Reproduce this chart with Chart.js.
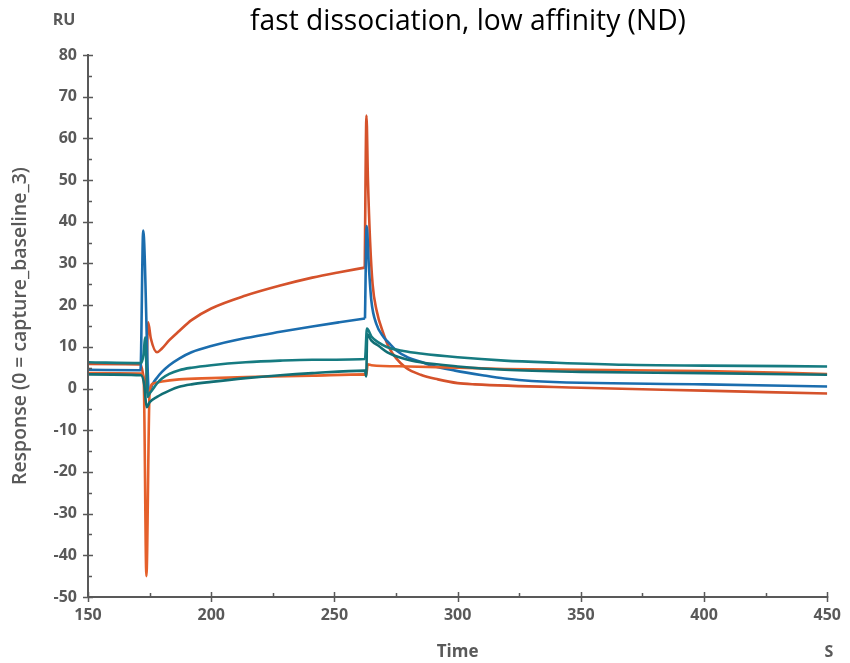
<!DOCTYPE html>
<html><head><meta charset="utf-8">
<script src="https://cdn.jsdelivr.net/npm/chart.js@4"></script>
<style>html,body{margin:0;padding:0;background:#fff}#wrap{width:850px;height:663px}</style>
</head><body><div id="wrap"><canvas id="c" width="850" height="663"></canvas></div>
<script>
const chartTitle = 'fast dissociation, low affinity (ND)';
const xTitle = 'Time', xUnit = 'S';
const yTitle = 'Response (0 = capture_baseline_3)', yUnit = 'RU';
const xTickValues = [150, 200, 250, 300, 350, 400, 450];
const yTickValues = [-50, -40, -30, -20, -10, 0, 10, 20, 30, 40, 50, 60, 70, 80];

// Teal (upper)
const tealATime = [150, 171.5, 172.5, 173.2, 174.2, 175, 176, 178, 180, 183, 187, 192, 200, 214, 228, 241, 262.4, 263.2, 265, 268, 271.5, 278, 285, 300, 319, 340, 368, 400, 450];
const tealAResp = [6.3, 6.1, 8, 12.3, -2, -1.2, -0.4, 1.2, 2.4, 3.5, 4.4, 5.0, 5.6, 6.3, 6.7, 6.9, 7.1, 14.4, 12.5, 11, 9.9, 9.0, 8.4, 7.5, 6.7, 6.2, 5.7, 5.5, 5.3];
// Teal (lower)
const tealBTime = [150, 171.5, 172.8, 173.8, 175, 178, 183, 187, 192, 200, 214, 228, 241, 262.4, 262.9, 263.3, 265, 268, 271.5, 278, 285, 300, 319, 350, 400, 450];
const tealBResp = [3.4, 3.2, 1, -4.5, -3.3, -2.0, -0.5, 0.4, 1.0, 1.6, 2.5, 3.2, 3.7, 4.3, 2.9, 13.0, 11.5, 10.2, 8.7, 7.2, 6.3, 5.3, 4.5, 4.0, 3.7, 3.3];
// Blue: baseline + association, then injection end + dissociation
const blueAssocTime = [150, 171.3, 172.4, 174.8, 176, 178, 180, 183, 187, 192, 200, 214, 228, 241, 252, 262.4];
const blueAssocResp = [4.5, 4.4, 37.9, -1.3, 0.8, 2.6, 4.0, 5.6, 7.2, 8.7, 10.2, 12.1, 13.6, 14.9, 15.9, 16.8];
const blueDissocTime = [262.4, 263.1, 264, 265, 267, 270, 272, 275, 280, 285, 290, 299, 310, 319, 330, 400, 450];
const blueDissocResp = [16.8, 39, 29, 21, 15.5, 12.3, 11, 9.2, 7.4, 6.4, 5.4, 4.3, 3.2, 2.4, 1.8, 1.0, 0.5];
// Orange (high response)
const orangeAAssocTime = [150, 171.3, 172.5, 173.5, 174.4, 175.5, 178, 180, 183, 187, 192, 200, 214, 228, 241, 252, 262.3];
const orangeAAssocResp = [5.9, 5.8, 3, 0, 15.9, 12, 8.7, 9.6, 11.6, 13.8, 16.4, 19.2, 22.3, 24.7, 26.6, 27.9, 29];
const orangeADissocTime = [262.3, 263, 263.6, 264.5, 265.5, 267, 270, 272, 275, 279, 285, 292, 300, 307, 350, 400, 450];
const orangeADissocResp = [29, 65.5, 50, 35, 25, 19, 13, 10, 7.3, 5, 3.3, 2.2, 1.3, 1.0, 0.2, -0.5, -1.2];
// Orange (low response, negative spike)
const orangeBTime = [150, 171.5, 172.6, 173.7, 175, 176.5, 180, 187, 200, 214, 241, 262.4, 262.9, 263.5, 265, 280, 300, 319, 400, 450];
const orangeBResp = [3.7, 3.6, 2, -45, -1, 1.2, 1.7, 2.2, 2.5, 2.75, 3.1, 3.4, 3.1, 5.8, 5.6, 5.3, 5.0, 4.7, 4.2, 3.5];

const toPts = (t, v) => t.map((x, i) => ({x: x, y: v[i]}));
const GRAY = '#595959';
const FONT = "'Open Sans', 'Noto Sans', sans-serif";
const TEAL_A = '#167B81', TEAL_B = '#126F75', ORANGE_A = '#D5522B', ORANGE_B = '#E5602B', BLUE = '#1B6DAE';

const mctx = document.createElement('canvas').getContext('2d');
function fitSize(text, weight, target) {
  mctx.font = weight + ' 100px ' + FONT;
  return 100 * target / mctx.measureText(text).width;
}
const titleSize = fitSize(chartTitle, 'normal', 436);
const yTitleSize = fitSize(yTitle, '600', 318);

const axisPlugin = {
  id: 'axisPlugin',
  afterDraw(chart) {
    const ctx = chart.ctx, xs = chart.scales.x, ys = chart.scales.y, a = chart.chartArea;
    ctx.save();
    ctx.strokeStyle = GRAY; ctx.lineWidth = 2;
    ctx.beginPath();
    ctx.moveTo(a.left, a.top - 1); ctx.lineTo(a.left, a.bottom);
    ctx.moveTo(a.left, a.bottom); ctx.lineTo(a.right + 1, a.bottom);
    ctx.stroke();
    ctx.lineWidth = 1.5;
    ctx.beginPath();
    for (let v = -50; v <= 80; v += 5) {
      const p = Math.round(ys.getPixelForValue(v)) + 0.5;
      if (v % 10 === 0) { ctx.moveTo(a.left - 5, p); ctx.lineTo(a.left + 5, p); }
      else { ctx.moveTo(a.left, p); ctx.lineTo(a.left + 4, p); }
    }
    for (let t = 150; t <= 450; t += 25) {
      const p = Math.round(xs.getPixelForValue(t)) + 0.5;
      if (t % 50 === 0) { ctx.moveTo(p, a.bottom - 5); ctx.lineTo(p, a.bottom + 5); }
      else { ctx.moveTo(p, a.bottom); ctx.lineTo(p, a.bottom - 4); }
    }
    ctx.stroke();
    ctx.fillStyle = '#000';
    ctx.font = titleSize.toFixed(2) + "px " + FONT;
    ctx.textAlign = 'center'; ctx.textBaseline = 'alphabetic';
    ctx.fillText(chartTitle, 468, 30);
    ctx.fillStyle = GRAY;
    ctx.textBaseline = 'middle';
    ctx.font = "bold 16px " + FONT;
    ctx.fillText(yUnit, 64, 20);
    ctx.fillText(xUnit, 829, 652);
    ctx.restore();
  }
};

const ds = (label, t, v, color) => ({
  label, data: toPts(t, v), borderColor: color, borderWidth: 2.6,
  pointRadius: 0, fill: false, cubicInterpolationMode: 'monotone'
});

new Chart(document.getElementById('c').getContext('2d'), {
  type: 'line',
  data: { datasets: [
    ds('Teal A', tealATime, tealAResp, TEAL_A),
    ds('Teal B', tealBTime, tealBResp, TEAL_B),
    ds('Orange B', orangeBTime, orangeBResp, ORANGE_B),
    ds('Blue (association)', blueAssocTime, blueAssocResp, BLUE),
    ds('Blue (dissociation)', blueDissocTime, blueDissocResp, BLUE),
    ds('Orange A (association)', orangeAAssocTime, orangeAAssocResp, ORANGE_A),
    ds('Orange A (dissociation)', orangeADissocTime, orangeADissocResp, ORANGE_A)
  ]},
  options: {
    responsive: false, animation: false,
    layout: { padding: { top: 55, right: 21, left: 0, bottom: 0 } },
    plugins: { legend: { display: false }, tooltip: { enabled: false }, title: { display: false } },
    scales: {
      x: {
        type: 'linear', min: 150, max: 450,
        afterBuildTicks: s => { s.ticks = xTickValues.map(v => ({ value: v })); },
        afterFit: s => { s.height = 66; },
        grid: { display: false, drawTicks: false },
        border: { display: false },
        ticks: { color: GRAY, font: { family: FONT, size: 16, weight: 'bold' }, padding: 9, maxRotation: 0 },
        title: { display: true, text: xTitle, color: GRAY, font: { family: FONT, size: 17, weight: 'bold' }, padding: { top: 0, bottom: 1 } }
      },
      y: {
        type: 'linear', min: -50, max: 80,
        afterBuildTicks: s => { s.ticks = yTickValues.map(v => ({ value: v })); },
        afterFit: s => { s.width = 88; },
        grid: { display: false, drawTicks: false },
        border: { display: false },
        ticks: { color: GRAY, font: { family: FONT, size: 16, weight: 'bold' }, padding: 11 },
        title: { display: true, text: yTitle, color: GRAY, font: { family: FONT, size: yTitleSize, weight: '600' }, padding: { top: Math.max(0, 20 - yTitleSize * 0.6), bottom: 0 } }
      }
    }
  },
  plugins: [axisPlugin]
});
</script></body></html>
